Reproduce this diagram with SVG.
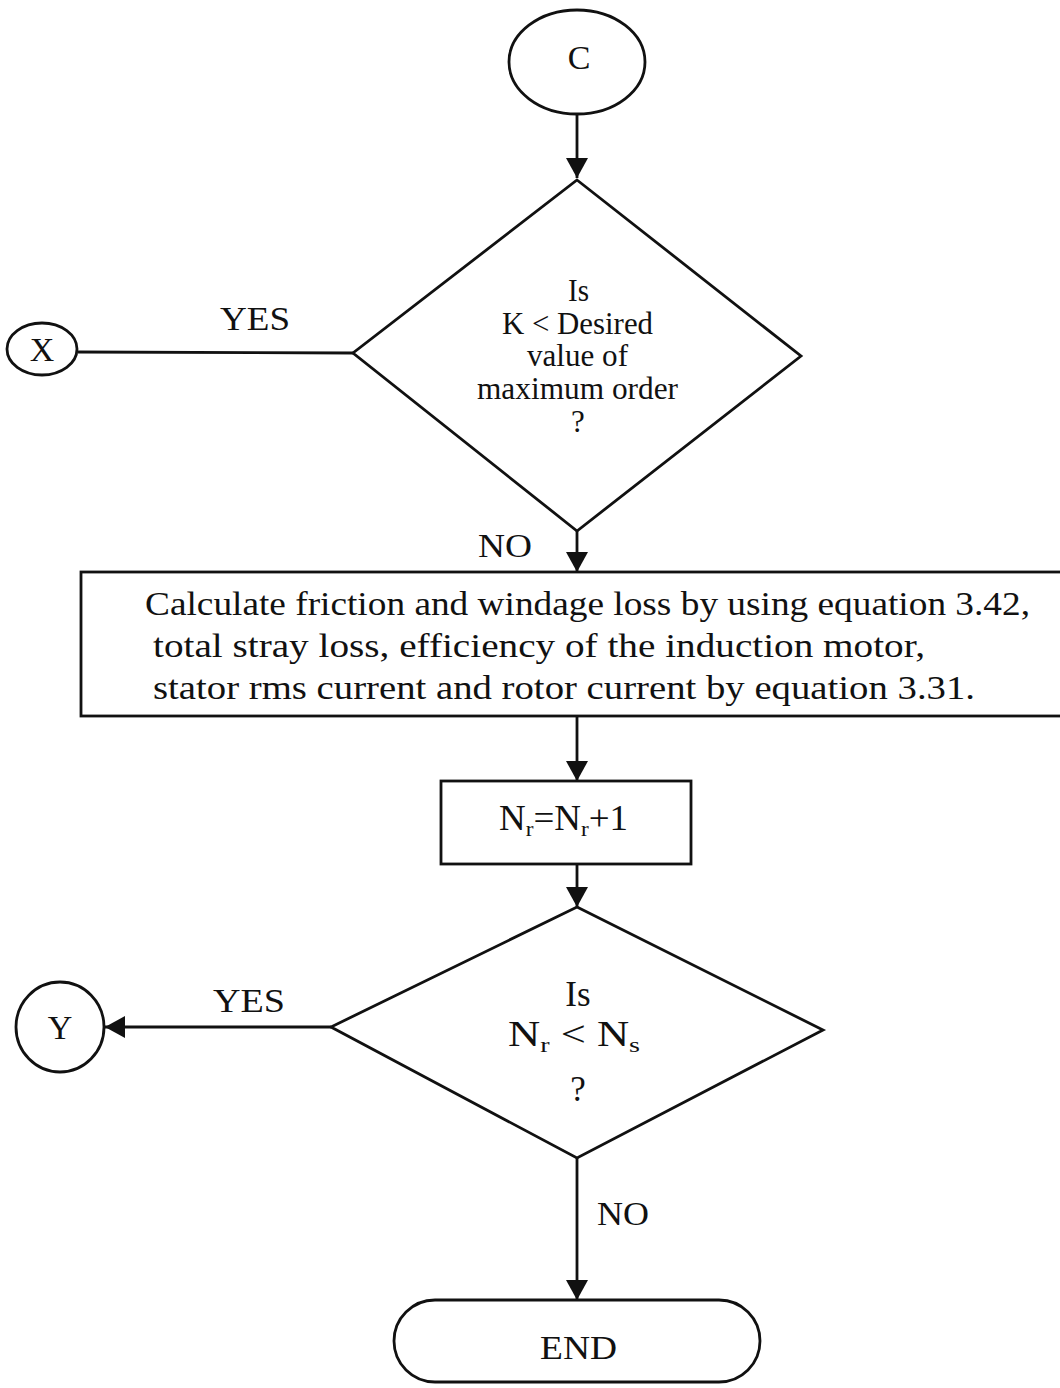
<svg xmlns="http://www.w3.org/2000/svg" width="1060" height="1388" viewBox="0 0 1060 1388">
  <style>
    .shape { fill: #ffffff; stroke: #111111; stroke-width: 2.8; }
    .line { fill: none; stroke: #111111; stroke-width: 2.8; }
    .t { font-family: "Liberation Serif", "Times New Roman", serif; fill: #111111; }
    .big { font-size: 34px; }
    .mid { font-size: 31px; }
    .body { font-size: 33px; }
    .eq { font-size: 35px; }
    .sub { font-size: 22px; }
  </style>
  <defs>
    <marker id="arrow" viewBox="0 0 20 24" refX="20" refY="12" markerWidth="20" markerHeight="24" markerUnits="userSpaceOnUse" orient="auto">
      <path d="M0,1 L20,12 L0,23 Z" fill="#111111"/>
    </marker>
  </defs>
  <rect width="1060" height="1388" fill="#ffffff"/>

  <!-- connectors -->
  <g id="connectors">
    <line class="line" x1="577" y1="114" x2="577" y2="178" marker-end="url(#arrow)"/>
    <line class="line" x1="78" y1="352" x2="353" y2="353"/>
    <text class="t big" x="220" y="330" textLength="70" lengthAdjust="spacingAndGlyphs">YES</text>
    <line class="line" x1="577" y1="531" x2="577" y2="572" marker-end="url(#arrow)"/>
    <text class="t big" x="478" y="557" textLength="54" lengthAdjust="spacingAndGlyphs">NO</text>
    <line class="line" x1="577" y1="716" x2="577" y2="781" marker-end="url(#arrow)"/>
    <line class="line" x1="577" y1="864" x2="577" y2="907" marker-end="url(#arrow)"/>
    <line class="line" x1="331" y1="1027" x2="105" y2="1027" marker-end="url(#arrow)"/>
    <text class="t big" x="213" y="1012" textLength="72" lengthAdjust="spacingAndGlyphs">YES</text>
    <line class="line" x1="577" y1="1158" x2="577" y2="1300" marker-end="url(#arrow)"/>
    <text class="t big" x="597" y="1225" textLength="52" lengthAdjust="spacingAndGlyphs">NO</text>
  </g>

  <!-- connector C -->
  <g id="node-c">
    <ellipse class="shape" cx="577" cy="62" rx="68" ry="52"/>
    <text class="t big" x="579" y="69" text-anchor="middle">C</text>
  </g>

  <!-- connector X -->
  <g id="node-x">
    <ellipse class="shape" cx="42" cy="349" rx="35" ry="26"/>
    <text class="t big" x="42" y="361" text-anchor="middle">X</text>
  </g>

  <!-- decision: K against maximum order -->
  <g id="decision-k">
    <polygon class="shape" points="577,180 801,356 577,531 353,353"/>
    <text class="t mid" x="568" y="301" textLength="21" lengthAdjust="spacingAndGlyphs">Is</text>
    <text class="t mid" x="502" y="334" textLength="151" lengthAdjust="spacingAndGlyphs">K &lt; Desired</text>
    <text class="t mid" x="527" y="366" textLength="101" lengthAdjust="spacingAndGlyphs">value of</text>
    <text class="t mid" x="477" y="399" textLength="201" lengthAdjust="spacingAndGlyphs">maximum order</text>
    <text class="t mid" x="578" y="432" text-anchor="middle">?</text>
  </g>

  <!-- process: losses, efficiency and currents -->
  <g id="process-losses">
    <rect class="shape" x="81" y="572" width="1000" height="144"/>
    <text class="t body" x="145" y="615" textLength="885" lengthAdjust="spacingAndGlyphs">Calculate friction and windage loss by using equation 3.42,</text>
    <text class="t body" x="153" y="657" textLength="772" lengthAdjust="spacingAndGlyphs">total stray loss, efficiency of the induction motor,</text>
    <text class="t body" x="153" y="699" textLength="822" lengthAdjust="spacingAndGlyphs">stator rms current and rotor current by equation 3.31.</text>
  </g>

  <!-- process: increment Nr -->
  <g id="process-increment">
    <rect class="shape" x="441" y="781" width="250" height="83"/>
    <text class="t eq" x="499" y="830" textLength="129" lengthAdjust="spacingAndGlyphs">N<tspan class="sub" dy="6">r</tspan><tspan dy="-6">=N</tspan><tspan class="sub" dy="6">r</tspan><tspan dy="-6">+1</tspan></text>
  </g>

  <!-- decision: Nr against Ns -->
  <g id="decision-nr">
    <polygon class="shape" points="577,907 823,1030 577,1158 331,1027"/>
    <text class="t eq" x="578" y="1006" text-anchor="middle">Is</text>
    <text class="t eq" x="508" y="1046" textLength="132" lengthAdjust="spacingAndGlyphs">N<tspan class="sub" dy="6">r</tspan><tspan dy="-6"> &lt; N</tspan><tspan class="sub" dy="6">s</tspan></text>
    <text class="t eq" x="578" y="1101" text-anchor="middle">?</text>
  </g>

  <!-- connector Y -->
  <g id="node-y">
    <ellipse class="shape" cx="60" cy="1027" rx="44" ry="45"/>
    <text class="t big" x="60" y="1039" text-anchor="middle">Y</text>
  </g>

  <!-- terminal END -->
  <g id="node-end">
    <rect class="shape" x="394" y="1300" width="366" height="82" rx="41" ry="41"/>
    <text class="t big" x="540" y="1359" textLength="77" lengthAdjust="spacingAndGlyphs">END</text>
  </g>
</svg>
